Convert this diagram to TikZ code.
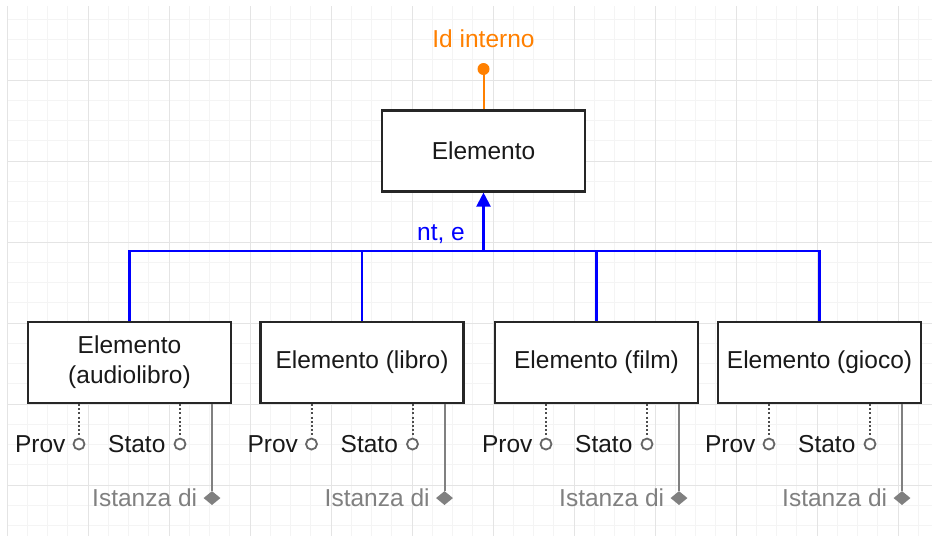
\documentclass[tikz,border=0pt]{standalone}
\usepackage{fontspec}
\setmainfont{Liberation Sans}
\usepackage{tikz}
\usetikzlibrary{arrows.meta,positioning,shapes.geometric}

\definecolor{idorange}{RGB}{255,128,0}
\definecolor{isablue}{RGB}{0,0,255}
\definecolor{instgray}{RGB}{128,128,128}
\definecolor{gridminor}{RGB}{244,244,244}
\definecolor{gridmajor}{RGB}{228,228,228}

\tikzset{
	entity/.style={draw=black!85, line width=2.1pt, fill=white, text=black!90,
		minimum width=203pt, minimum height=81pt, align=center,
		font=\fontsize{24.5}{30}\selectfont},
	isa/.style={draw=isablue, line width=2.1pt},
	iddot/.style={circle, fill=idorange, inner sep=0pt, minimum size=12pt},
	attrdot/.style={circle, draw=black!60, fill=white, line width=1.8pt, inner sep=0pt, minimum size=11pt},
	instdot/.style={diamond, fill=instgray, inner sep=0pt, minimum width=17pt, minimum height=14pt},
	attrline/.style={draw=black!70, line width=2pt, dash pattern=on 2pt off 2.2pt},
	instline/.style={draw=instgray, line width=2pt},
	attrtext/.style={inner sep=0pt, text=black!90, font=\fontsize{24.5}{30}\selectfont},
}

\begin{document}
\begin{tikzpicture}[x=1pt, y=-1pt]
		\useasboundingbox (0,0) rectangle (932,536);
		\fill[white] (0,0) rectangle (932,536);
		\begin{scope}
			\clip (7,6) rectangle (932,536);
			\foreach \k in {0,...,45}
				\draw[gridminor, line width=1pt] ({7+20.25*\k},6) -- ({7+20.25*\k},536);
			\foreach \k in {-3,...,22}
				\draw[gridminor, line width=1pt] (7,{80+20.25*\k}) -- (932,{80+20.25*\k});
			\foreach \k in {0,...,11}
				\draw[gridmajor, line width=1pt] ({7+81*\k},6) -- ({7+81*\k},536);
			\foreach \k in {0,...,5}
				\draw[gridmajor, line width=1pt] (7,{80+81*\k}) -- (932,{80+81*\k});
		\end{scope}

		\node[entity] (elem) at (483.5,151) {Elemento};
		\node[entity] (audio) at (129.5,362.5) {Elemento\\(audiolibro)};
		\node[entity] (libro) at (362,362.5) {Elemento (libro)};
		\node[entity] (film) at (596.5,362.5) {Elemento (film)};
		\node[entity] (gioco) at (819.5,362.5) {Elemento (gioco)};

		\node[iddot] (id) at (483.5,69) {};
		\node[attrtext, text=idorange] (idlabel) at (483.5,39) {Id interno};
		\draw[draw=idorange, line width=2pt] (elem.north) -- (id);

		\coordinate (bus) at (483.5,251);
		\foreach \c in {audio,libro,film,gioco}
			\draw[isa] (\c.north) |- (bus);
		\draw[isa, -{Triangle[length=14pt, width=14pt]}] (bus) -- (elem.south);
		\node[attrtext, text=isablue, anchor=base east] (isalabel) at (465,240) {nt, e};

		\foreach \c in {audio,libro,film,gioco} {
			\node[attrdot] (\c-prov) at ([xshift=-50.5pt, yshift=-40pt]\c.south) {};
			\node[attrdot] (\c-stato) at ([xshift=50.5pt, yshift=-40pt]\c.south) {};
			\node[instdot] (\c-inst) at ([xshift=82.5pt, yshift=-94pt]\c.south) {};
			\draw[attrline] (\c-prov |- \c.south) -- (\c-prov);
			\draw[attrline] (\c-stato |- \c.south) -- (\c-stato);
			\draw[instline] (\c-inst |- \c.south) -- (\c-inst);
			\node[attrtext, left=7pt of \c-prov] {Prov};
			\node[attrtext, left=8pt of \c-stato] {Stato};
			\node[attrtext, text=instgray, left=6pt of \c-inst] {Istanza di};
		}
\end{tikzpicture}
\end{document}
